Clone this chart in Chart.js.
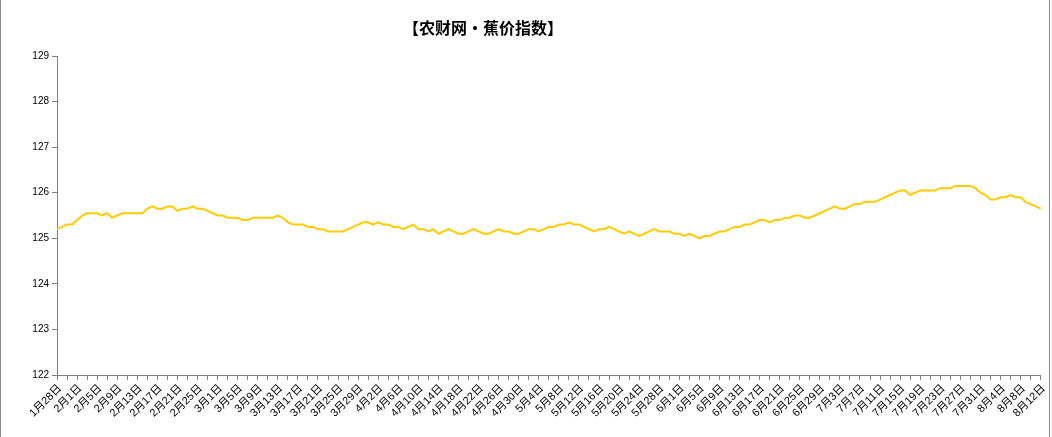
<!DOCTYPE html>
<html>
<head>
<meta charset="utf-8">
<script src="https://cdn.jsdelivr.net/npm/chart.js@4.4.1/dist/chart.umd.min.js"></script>
<style>
  html, body { margin: 0; padding: 0; background: #fff; }
  #wrap { width: 1052px; height: 437px; position: relative; }
</style>
</head>
<body>
<div id="wrap"><canvas id="chartIndice"></canvas></div>
<script>
// Etiquetas del eje X (una cada 4 días)
const tickLabels = [
  '1月28日', '2月1日', '2月5日', '2月9日', '2月13日', '2月17日', '2月21日', '2月25日',
  '3月1日', '3月5日', '3月9日', '3月13日', '3月17日', '3月21日', '3月25日', '3月29日',
  '4月2日', '4月6日', '4月10日', '4月14日', '4月18日', '4月22日', '4月26日', '4月30日',
  '5月4日', '5月8日', '5月12日', '5月16日', '5月20日', '5月24日', '5月28日',
  '6月1日', '6月5日', '6月9日', '6月13日', '6月17日', '6月21日', '6月25日', '6月29日',
  '7月3日', '7月7日', '7月11日', '7月15日', '7月19日', '7月23日', '7月27日', '7月31日',
  '8月4日', '8月8日', '8月12日'
];
const labelStep = 4;

// Índice diario del precio del plátano
const indexValues = [
  125.2, 125.25, 125.3, 125.3, 125.4, 125.5, 125.55, 125.55, 125.55, 125.5,
  125.55, 125.45, 125.5, 125.55, 125.55, 125.55, 125.55, 125.55, 125.65, 125.7,
  125.65, 125.65, 125.7, 125.7, 125.6, 125.65, 125.65, 125.7, 125.65, 125.65,
  125.6, 125.55, 125.5, 125.5, 125.45, 125.45, 125.45, 125.4, 125.4, 125.45,
  125.45, 125.45, 125.45, 125.45, 125.5, 125.45, 125.35, 125.3, 125.3, 125.3,
  125.25, 125.25, 125.2, 125.2, 125.15, 125.15, 125.15, 125.15, 125.2, 125.25,
  125.3, 125.35, 125.35, 125.3, 125.35, 125.3, 125.3, 125.25, 125.25, 125.2,
  125.25, 125.3, 125.2, 125.2, 125.15, 125.2, 125.1, 125.15, 125.2, 125.15,
  125.1, 125.1, 125.15, 125.2, 125.15, 125.1, 125.1, 125.15, 125.2, 125.15,
  125.15, 125.1, 125.1, 125.15, 125.2, 125.2, 125.15, 125.2, 125.25, 125.25,
  125.3, 125.3, 125.35, 125.3, 125.3, 125.25, 125.2, 125.15, 125.2, 125.2,
  125.25, 125.2, 125.15, 125.1, 125.15, 125.1, 125.05, 125.1, 125.15, 125.2,
  125.15, 125.15, 125.15, 125.1, 125.1, 125.05, 125.1, 125.05, 125.0, 125.05,
  125.05, 125.1, 125.15, 125.15, 125.2, 125.25, 125.25, 125.3, 125.3, 125.35,
  125.4, 125.4, 125.35, 125.4, 125.4, 125.45, 125.45, 125.5, 125.5, 125.45,
  125.45, 125.5, 125.55, 125.6, 125.65, 125.7, 125.65, 125.65, 125.7, 125.75,
  125.75, 125.8, 125.8, 125.8, 125.85, 125.9, 125.95, 126.0, 126.05, 126.05,
  125.95, 126.0, 126.05, 126.05, 126.05, 126.05, 126.1, 126.1, 126.1, 126.15,
  126.15, 126.15, 126.15, 126.1, 126.0, 125.95, 125.85, 125.85, 125.9, 125.9,
  125.95, 125.9, 125.9, 125.8, 125.75, 125.7, 125.65
];

const yMin = 122;
const yMax = 129;

// Categorías: la etiqueta solo aparece cada 4 puntos
const categories = indexValues.map((v, i) =>
  i % labelStep === 0 ? (tickLabels[i / labelStep] || '') : ''
);

const AXIS_GRAY = '#808080';
const FONT_FAMILY = "Tahoma, 'Liberation Sans', 'Noto Sans CJK SC'";

// Título y marco dibujados a mano
const framePlugin = {
  id: 'frame',
  afterDraw(chart) {
    const ctx = chart.ctx;
    ctx.save();
    ctx.strokeStyle = '#8a8a8a';
    ctx.lineWidth = 1;
    ctx.beginPath();
    ctx.moveTo(0.5, 0);
    ctx.lineTo(0.5, chart.height);
    ctx.moveTo(1049.5, 0);
    ctx.lineTo(1049.5, chart.height);
    ctx.stroke();

    ctx.fillStyle = '#000';
    ctx.font = "bold 16px 'Noto Sans CJK SC', sans-serif";
    ctx.textAlign = 'center';
    ctx.textBaseline = 'middle';
    ctx.fillText('【农财网·蕉价指数】', 483, 28);
    ctx.restore();
  }
};

const ctx = document.getElementById('chartIndice').getContext('2d');
new Chart(ctx, {
  type: 'line',
  data: {
    labels: categories,
    datasets: [{
      label: '蕉价指数',
      data: indexValues,
      borderColor: '#ffcc00',
      borderWidth: 2,
      pointRadius: 0,
      tension: 0,
      fill: false,
    }]
  },
  options: {
    responsive: true,
    maintainAspectRatio: false,
    animation: false,
    layout: { padding: { top: 56, right: 5, bottom: 0, left: 0 } },
    plugins: {
      legend: { display: false },
      tooltip: { enabled: false },
    },
    scales: {
      x: {
        offset: false,
        afterFit: s => { s.height = 62; },
        border: { color: AXIS_GRAY },
        grid: {
          drawOnChartArea: false,
          tickLength: 5,
          tickColor: c => (c.index % 2 === 0 ? AXIS_GRAY : 'rgba(0,0,0,0)'),
        },
        ticks: {
          autoSkip: false,
          minRotation: 45,
          maxRotation: 45,
          padding: 2,
          labelOffset: 3,
          color: '#000',
          font: { family: FONT_FAMILY, size: 11 },
        }
      },
      y: {
        min: yMin,
        max: yMax,
        afterFit: s => { s.width = 57; },
        border: { color: AXIS_GRAY },
        grid: {
          drawOnChartArea: false,
          tickLength: 5,
          tickColor: AXIS_GRAY,
        },
        ticks: {
          stepSize: 1,
          padding: 3,
          color: '#000',
          font: { family: FONT_FAMILY, size: 10 },
        }
      }
    }
  },
  plugins: [framePlugin]
});
</script>
</body>
</html>
